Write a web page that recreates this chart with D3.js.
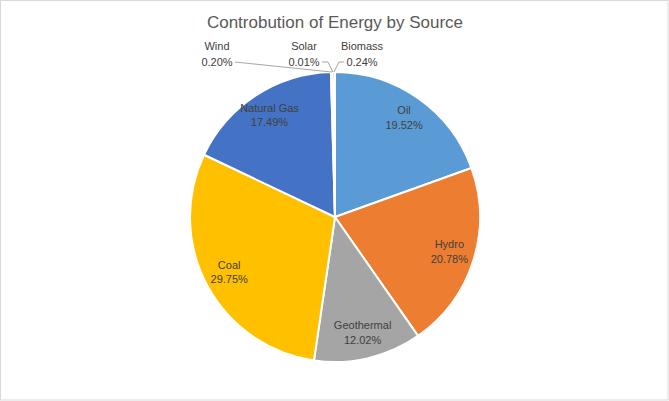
<!DOCTYPE html>
<html lang="en">
<head>
	<meta charset="UTF-8">
	<script src="https://d3js.org/d3.v7.min.js"></script>
	<title>Contribution of Energy by Source</title>
	<style>
		body {
			margin: 0;
			background: #fff;
		}
		svg {
			display: block;
			font-family: "Liberation Sans", Arial, sans-serif;
		}
		.label {
			fill: #404040;
			font-size: 11px;
		}
		.leader {
			fill: none;
			stroke: #a6a6a6;
			stroke-width: 1;
		}
	</style>
</head>
<body>
	<svg></svg>

	<script>
		const sources = ['Oil', 'Hydro', 'Geothermal', 'Coal', 'Natural Gas', 'Wind', 'Solar', 'Biomass'];
		const shares = [19.52, 20.78, 12.02, 29.75, 17.49, 0.20, 0.01, 0.24];
		const colours = ['#5b9bd5', '#ed7d31', '#a5a5a5', '#ffc000', '#4472c4', '#70ad47', '#264478', '#9e480e'];

		const width = 669;
		const height = 401;
		const cx = 335;
		const cy = 217;
		const radius = 145;

		const svg = d3.select('svg')
			.attr('width', width)
			.attr('height', height);

		// chart area border
		svg.append('rect')
			.attr('x', 0.5)
			.attr('y', 0.5)
			.attr('width', width - 1.5)
			.attr('height', height - 1.5)
			.attr('fill', '#fff')
			.attr('stroke', '#d9d9d9');

		svg.append('text')
			.attr('x', cx)
			.attr('y', 28)
			.attr('text-anchor', 'middle')
			.attr('fill', '#595959')
			.style('font-size', '17px')
			.text('Controbution of Energy by Source');

		const data = sources.map((s, i) => ({ source: s, value: shares[i], colour: colours[i] }));

		const pie = d3.pie()
			.value(d => d.value)
			.sort(null);

		const arc = d3.arc()
			.innerRadius(0)
			.outerRadius(radius);

		const labelArc = d3.arc()
			.innerRadius(120)
			.outerRadius(120);

		const edgeArc = d3.arc()
			.innerRadius(radius)
			.outerRadius(radius);

		const arcs = pie(data);

		const g = svg.append('g')
			.attr('transform', `translate(${cx},${cy})`);

		g.selectAll('path')
			.data(arcs)
			.enter()
			.append('path')
			.attr('d', arc)
			.attr('fill', d => d.data.colour)
			.attr('stroke', '#fff')
			.attr('stroke-width', 2)
			.attr('stroke-linejoin', 'round');

		const fmt = v => v.toFixed(2) + '%';

		// big slices: label inside
		const inside = arcs.filter(d => d.data.value >= 1);
		const inLabels = g.selectAll('text.inside')
			.data(inside)
			.enter()
			.append('text')
			.attr('class', 'label inside')
			.attr('text-anchor', 'middle')
			.attr('transform', d => `translate(${labelArc.centroid(d)})`);
		inLabels.append('tspan')
			.attr('x', 0)
			.attr('dy', '-0.45em')
			.text(d => d.data.source);
		inLabels.append('tspan')
			.attr('x', 0)
			.attr('dy', '1.35em')
			.text(d => fmt(d.data.value));

		// tiny slices: label above with leader lines
		const outside = arcs.filter(d => d.data.value < 1);
		// label centres relative to pie centre, and which side the leader attaches to
		const outPos = [[-118, -167, 'right'], [-31, -167, 'right'], [27, -167, 'left']];

		outside.forEach((d, i) => {
			const [lx, ly, side] = outPos[i];
			const t = g.append('text')
				.attr('class', 'label')
				.attr('text-anchor', 'middle')
				.attr('transform', `translate(${lx},${ly})`);
			t.append('tspan').attr('x', 0).attr('dy', '0em').text(d.data.source);
			t.append('tspan').attr('x', 0).attr('dy', '1.45em').text(fmt(d.data.value));

			const lineY = ly + 12;
			const startX = side === 'right' ? lx + 18 : lx - 18;
			const elbowX = side === 'right' ? startX + 6 : startX - 5;
			const [ex, ey] = edgeArc.centroid(d);
			const pts = i === 0
				? [[startX, lineY], [ex, ey]]
				: [[startX, lineY], [elbowX, lineY], [ex, ey]];
			g.append('path')
				.attr('class', 'leader')
				.attr('d', d3.line()(pts));
		});
	</script>
</body>
</html>
